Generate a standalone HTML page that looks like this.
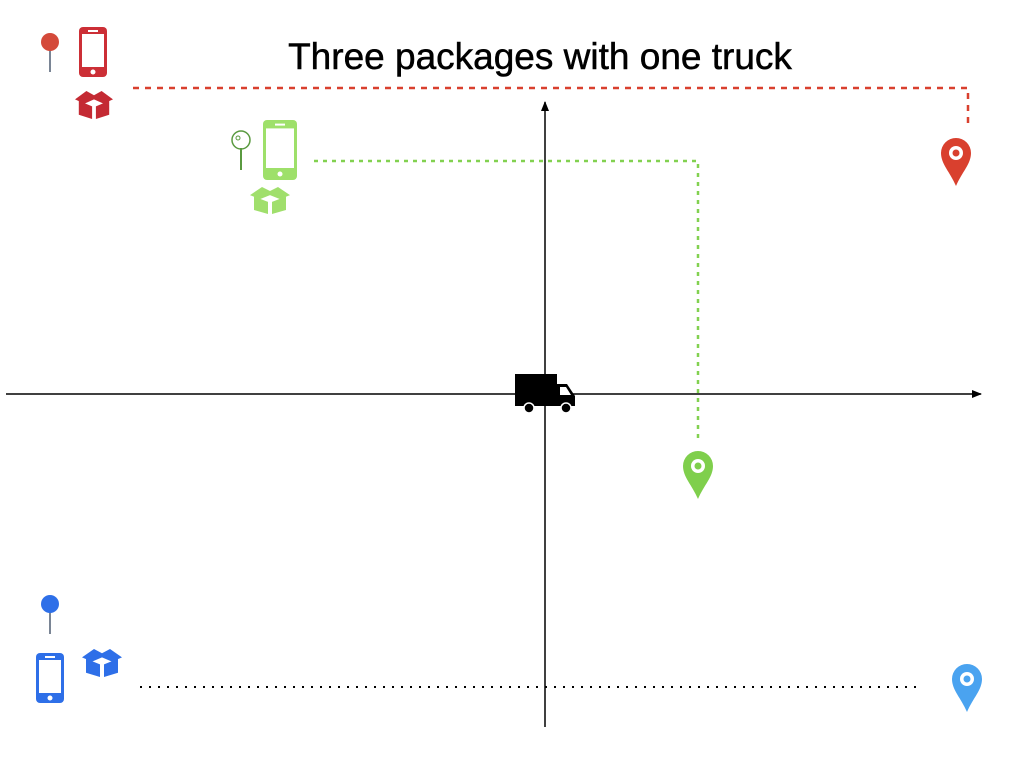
<!DOCTYPE html>
<html><head><meta charset="utf-8"><style>
html,body{margin:0;padding:0;background:#fff;}
svg{display:block;}
text{font-family:"Liberation Sans",sans-serif;}
</style></head><body>
<svg id="chart" width="1024" height="768" viewBox="0 0 1024 768">
<defs>
<marker id="arr" markerWidth="10" markerHeight="10" refX="9" refY="5" orient="auto" markerUnits="userSpaceOnUse">
<path d="M0,1 L10,5 L0,9 Z" fill="#000"/></marker>
</defs>
<text x="540" y="69" text-anchor="middle" font-size="37" fill="#000" stroke="#000" stroke-width="0.5">Three packages with one truck</text>
<line x1="6" y1="394" x2="981" y2="394" stroke="#000" stroke-width="1.5" marker-end="url(#arr)"/>
<line x1="545" y1="727" x2="545" y2="102" stroke="#000" stroke-width="1.5" marker-end="url(#arr)"/>
<g id="routes"></g>
<g id="icons"></g>
<g>
<rect x="515" y="374" width="42" height="30" fill="#000"/>
<path d="M557,384 L567,384 L575,396 L575,405 L557,405 Z" fill="#000"/>
<path d="M560,387 L566,387 L571,395 L560,395 Z" fill="#fff"/>
<rect x="515" y="403" width="60" height="3" fill="#000"/>
<circle cx="529" cy="408" r="5" fill="#000" stroke="#fff" stroke-width="1.5"/>
<circle cx="566" cy="408" r="5" fill="#000" stroke="#fff" stroke-width="1.5"/>
</g>
</svg>
<script>
const NS='http://www.w3.org/2000/svg';
// data-space: origin at truck, x right, y up
const packageNames=['red','green','blue'];
const packageColors=['#d9402e','#82d150','#2e6fe8'];
const pinColors=['#d9402e','#7fcf4c','#4aa3f0'];
const routeY=[306,233,-293];
const routeStartX=[-412,-231,-405];
const routeEndX=[423,153,373];
const destX=[411,153,422];
const destY=[232,-81,-294];
const dashStyles=['6 6','4 5','2 7'];
const ox=545, oy=394;
function sx(v){return ox+v;}
function sy(v){return oy-v;}
const routes=document.getElementById('routes');
const icons=document.getElementById('icons');
function el(tag,attrs,parent){const e=document.createElementNS(NS,tag);for(const k in attrs)e.setAttribute(k,attrs[k]);parent.appendChild(e);return e;}
for(let i=0;i<packageNames.length;i++){
  let d='M'+sx(routeStartX[i])+','+sy(routeY[i])+' L'+sx(routeEndX[i])+','+sy(routeY[i]);
  if(i<2) d+=' L'+sx(routeEndX[i])+','+(sy(destY[i])-34);
  const p=el('path',{d:d,fill:'none',stroke:i==2?'#000':packageColors[i],'stroke-width':i==2?2:2.5,'stroke-dasharray':dashStyles[i]},routes);
  
  
  const px=sx(destX[i]), tip=sy(destY[i])+24;
  const g=el('g',{},icons);
  
  
  el('path',{d:'M'+px+','+tip+' C'+(px-6)+','+(tip-14)+' '+(px-15)+','+(tip-22)+' '+(px-15)+','+(tip-33)+' A15,15 0 1 1 '+(px+15)+','+(tip-33)+' C'+(px+15)+','+(tip-22)+' '+(px+6)+','+(tip-14)+' '+px+','+tip+' Z',fill:pinColors[i]},g);
  el('circle',{cx:px,cy:tip-33,r:7,fill:'#fff'},g);
  el('circle',{cx:px,cy:tip-33,r:3.5,fill:pinColors[i]},g);
}
function phone(x,y,w,h,c,name){
  const g=el('g',{},icons);
  
  
  el('rect',{x:x,y:y,width:w,height:h,rx:4,fill:c},g);
  el('rect',{x:x+3,y:y+h*0.14,width:w-6,height:h*0.66,fill:'#fff'},g);
  el('rect',{x:x+w/2-5,y:y+h*0.06,width:10,height:2,fill:'#fff'},g);
  el('circle',{cx:x+w/2,cy:y+h*0.9,r:2.5,fill:'#fff'},g);
}
function box(x,y,w,h,c,name){
  const g=el('g',{},icons);
  
  
  el('path',{d:`M${x+w*0.1},${y+h*0.35} L${x+w*0.45},${y+h*0.55} L${x+w*0.45},${y+h} L${x+w*0.1},${y+h*0.85} Z`,fill:c},g);
  el('path',{d:`M${x+w*0.55},${y+h*0.55} L${x+w*0.9},${y+h*0.35} L${x+w*0.9},${y+h*0.85} L${x+w*0.55},${y+h} Z`,fill:c},g);
  el('path',{d:`M${x},${y+h*0.3} L${x+w*0.3},${y} L${x+w*0.5},${y+h*0.15} L${x+w*0.7},${y} L${x+w},${y+h*0.3} L${x+w*0.75},${y+h*0.45} L${x+w*0.5},${y+h*0.3} L${x+w*0.25},${y+h*0.45} Z`,fill:c},g);
}
function pushpin(x,y,c,outline,name){
  const g=el('g',{},icons);
  
  
  el('line',{x1:x,y1:y+8,x2:x,y2:y+30,stroke:outline?c:'#7a8595','stroke-width':2},g);
  if(outline){el('circle',{cx:x,cy:y,r:9,fill:'none',stroke:c,'stroke-width':1.5},g);el('circle',{cx:x-3,cy:y-2,r:2,fill:'none',stroke:c,'stroke-width':1},g);}
  else el('circle',{cx:x,cy:y,r:9,fill:c},g);
}
pushpin(50,42,'#d44a3a',false,'origin-pin-red');
phone(79,27,28,50,'#cc2f36','phone-red');
box(75,91,38,28,'#c42a33','package-red');
pushpin(241,140,'#5a9a40',true,'origin-pin-green');
phone(263,120,34,60,'#9ee06a','phone-green');
box(250,187,40,27,'#a0df6c','package-green');
pushpin(50,604,'#2e6fe8',false,'origin-pin-blue');
phone(36,653,28,50,'#2e6fe8','phone-blue');
box(82,649,40,28,'#2e6fe8','package-blue');
</script>
</body></html>
